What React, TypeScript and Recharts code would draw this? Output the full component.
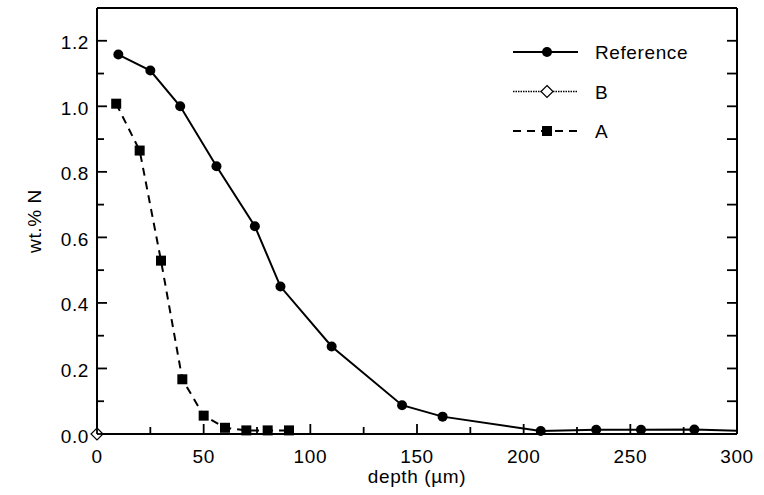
import { Legend, Line, LineChart, XAxis, YAxis } from "recharts";

// depth in µm, nitrogen in wt.%
const refDepth = [10, 25, 39, 56, 74, 86, 110, 143, 162, 208, 234, 255, 280, 300];
const refN = [1.158, 1.109, 1.0, 0.817, 0.634, 0.45, 0.267, 0.088, 0.053, 0.009, 0.013, 0.013, 0.014, 0.01];
const aDepth = [9, 20, 30, 40, 50, 60, 70, 80, 90];
const aN = [1.008, 0.865, 0.529, 0.167, 0.056, 0.019, 0.011, 0.011, 0.011];
const bDepth = [0];
const bN = [0];

const xTicks = [0, 25, 50, 75, 100, 125, 150, 175, 200, 225, 250, 275, 300];
const yTicks = [0, 0.1, 0.2, 0.3, 0.4, 0.5, 0.6, 0.7, 0.8, 0.9, 1.0, 1.1, 1.2];
const legendNames = ["Reference", "B", "A"];

const X_MAX = 300;
const FONT = "'Liberation Sans', Arial, Helvetica, sans-serif";
const textStyle = { fontFamily: FONT, fontSize: 19, letterSpacing: 0.6, fill: "#000" };

const refData = refDepth.map((d, i) => ({ depth: d, n: refN[i] }));
const aData = aDepth.map((d, i) => ({ depth: d, n: aN[i] }));
const bData = bDepth.map((d, i) => ({ depth: d, n: bN[i] }));

const isMajorX = (v: number) => v % 50 === 0;
const isMajorY = (v: number) => Math.round(v * 10) % 2 === 0;

function BottomTick(props: any) {
  const { x, y, payload } = props;
  const major = isMajorX(payload.value);
  return (
    <g>
      <line x1={x} x2={x} y1={y} y2={y - (major ? 10 : 7)} stroke="#000" strokeWidth={1.8} />
      {major && (
        <text x={x} y={y + 29} textAnchor="middle" style={textStyle}>
          {payload.value}
        </text>
      )}
    </g>
  );
}

function TopTick(props: any) {
  const { x, y } = props;
  return <line x1={x} x2={x} y1={y} y2={y + 10} stroke="#000" strokeWidth={1.8} />;
}

function LeftTick(props: any) {
  const { x, y, payload } = props;
  const major = isMajorY(payload.value);
  return (
    <g>
      <line x1={x} x2={x + (major ? 10 : 7)} y1={y} y2={y} stroke="#000" strokeWidth={1.8} />
      {major && (
        <text x={x - 8} y={y + 8.5} textAnchor="end" style={textStyle}>
          {payload.value.toFixed(1)}
        </text>
      )}
    </g>
  );
}

function RightTick(props: any) {
  const { x, y } = props;
  return <line x1={x} x2={x - 10} y1={y} y2={y} stroke="#000" strokeWidth={1.8} />;
}

function Circle({ cx, cy, r = 5 }: { cx: number; cy: number; r?: number }) {
  return <circle cx={cx} cy={cy} r={r} fill="#000" />;
}

function Square({ cx, cy }: { cx: number; cy: number }) {
  return <rect x={cx - 5} y={cy - 5} width={10} height={10} fill="#000" />;
}

function Diamond({ cx, cy }: { cx: number; cy: number }) {
  return (
    <polygon
      points={`${cx},${cy - 6} ${cx + 6},${cy} ${cx},${cy + 6} ${cx - 6},${cy}`}
      fill="#fff"
      stroke="#000"
      strokeWidth={1.2}
    />
  );
}

// the reference curve runs on to the frame, its last point has no marker
const refDot = (p: any) =>
  p.payload.depth >= X_MAX ? <g key={p.index} /> : <Circle key={p.index} cx={p.cx} cy={p.cy} />;
const aDot = (p: any) => <Square key={p.index} cx={p.cx} cy={p.cy} />;
const bDot = (p: any) => <Diamond key={p.index} cx={p.cx} cy={p.cy} />;

function LegendBox() {
  const rows = [
    { dash: undefined, width: 2, marker: (cx: number, cy: number) => <Circle cx={cx} cy={cy} /> },
    { dash: "1.5 1", width: 1.5, marker: (cx: number, cy: number) => <Diamond cx={cx} cy={cy} /> },
    { dash: "8 6", width: 2, marker: (cx: number, cy: number) => <Square cx={cx} cy={cy} /> },
  ];
  return (
    <svg width={230} height={120}>
      {rows.map((r, i) => {
        const cy = 20 + i * 39.5;
        return (
          <g key={legendNames[i]}>
            <line x1={8} x2={73} y1={cy} y2={cy} stroke="#000" strokeWidth={r.width} strokeDasharray={r.dash} />
            {r.marker(42, cy)}
            <text x={90} y={cy + 7} style={textStyle}>
              {legendNames[i]}
            </text>
          </g>
        );
      })}
    </svg>
  );
}

export default function App() {
  return (
    <div style={{ position: "absolute", left: 0, top: 0, background: "#fff" }}>
      <LineChart width={764} height={495} margin={{ top: 0, right: 0, bottom: 0, left: 0 }}>
        <XAxis
          xAxisId="bottom"
          dataKey="depth"
          type="number"
          domain={[0, X_MAX]}
          ticks={xTicks}
          interval={0}
          height={61}
          tickSize={0}
          tickMargin={0}
          tickLine={false}
          tick={BottomTick}
          axisLine={{ stroke: "#000", strokeWidth: 2 }}
          label={{
            content: (p: any) => (
              <text x={p.viewBox.x + p.viewBox.width / 2} y={p.viewBox.y + 49} textAnchor="middle" style={textStyle}>
                depth (µm)
              </text>
            ),
          }}
        />
        <XAxis
          xAxisId="top"
          orientation="top"
          type="number"
          domain={[0, X_MAX]}
          allowDataOverflow
          ticks={xTicks}
          interval={0}
          height={8}
          tickSize={0}
          tickMargin={0}
          tickLine={false}
          tick={TopTick}
          axisLine={{ stroke: "#000", strokeWidth: 2 }}
        />
        <YAxis
          yAxisId="left"
          type="number"
          domain={[0, 1.3]}
          ticks={yTicks}
          interval={0}
          width={97}
          tickSize={0}
          tickMargin={0}
          tickLine={false}
          tick={LeftTick}
          axisLine={{ stroke: "#000", strokeWidth: 2 }}
          label={{
            content: (p: any) => {
              const cx = 41;
              const cy = p.viewBox.y + p.viewBox.height / 2;
              return (
                <text x={cx} y={cy} transform={`rotate(-90 ${cx} ${cy})`} textAnchor="middle" style={textStyle}>
                  wt.% N
                </text>
              );
            },
          }}
        />
        <YAxis
          yAxisId="right"
          orientation="right"
          type="number"
          domain={[0, 1.3]}
          allowDataOverflow
          ticks={yTicks}
          interval={0}
          width={27}
          tickSize={0}
          tickMargin={0}
          tickLine={false}
          tick={RightTick}
          axisLine={{ stroke: "#000", strokeWidth: 2 }}
        />
        <Legend
          layout="vertical"
          align="center"
          verticalAlign="middle"
          content={() => <LegendBox />}
          wrapperStyle={{ left: 505, top: 32, width: 230, height: 120 }}
        />
        <Line
          xAxisId="bottom"
          yAxisId="left"
          data={refData}
          dataKey="n"
          name="Reference"
          stroke="#000"
          strokeWidth={2}
          dot={refDot}
          isAnimationActive={false}
        />
        <Line
          xAxisId="bottom"
          yAxisId="left"
          data={bData}
          dataKey="n"
          name="B"
          stroke="#000"
          strokeWidth={1.5}
          strokeDasharray="1.5 1"
          dot={bDot}
          isAnimationActive={false}
        />
        <Line
          xAxisId="bottom"
          yAxisId="left"
          data={aData}
          dataKey="n"
          name="A"
          stroke="#000"
          strokeWidth={2}
          strokeDasharray="8 6"
          dot={aDot}
          isAnimationActive={false}
        />
      </LineChart>
    </div>
  );
}
